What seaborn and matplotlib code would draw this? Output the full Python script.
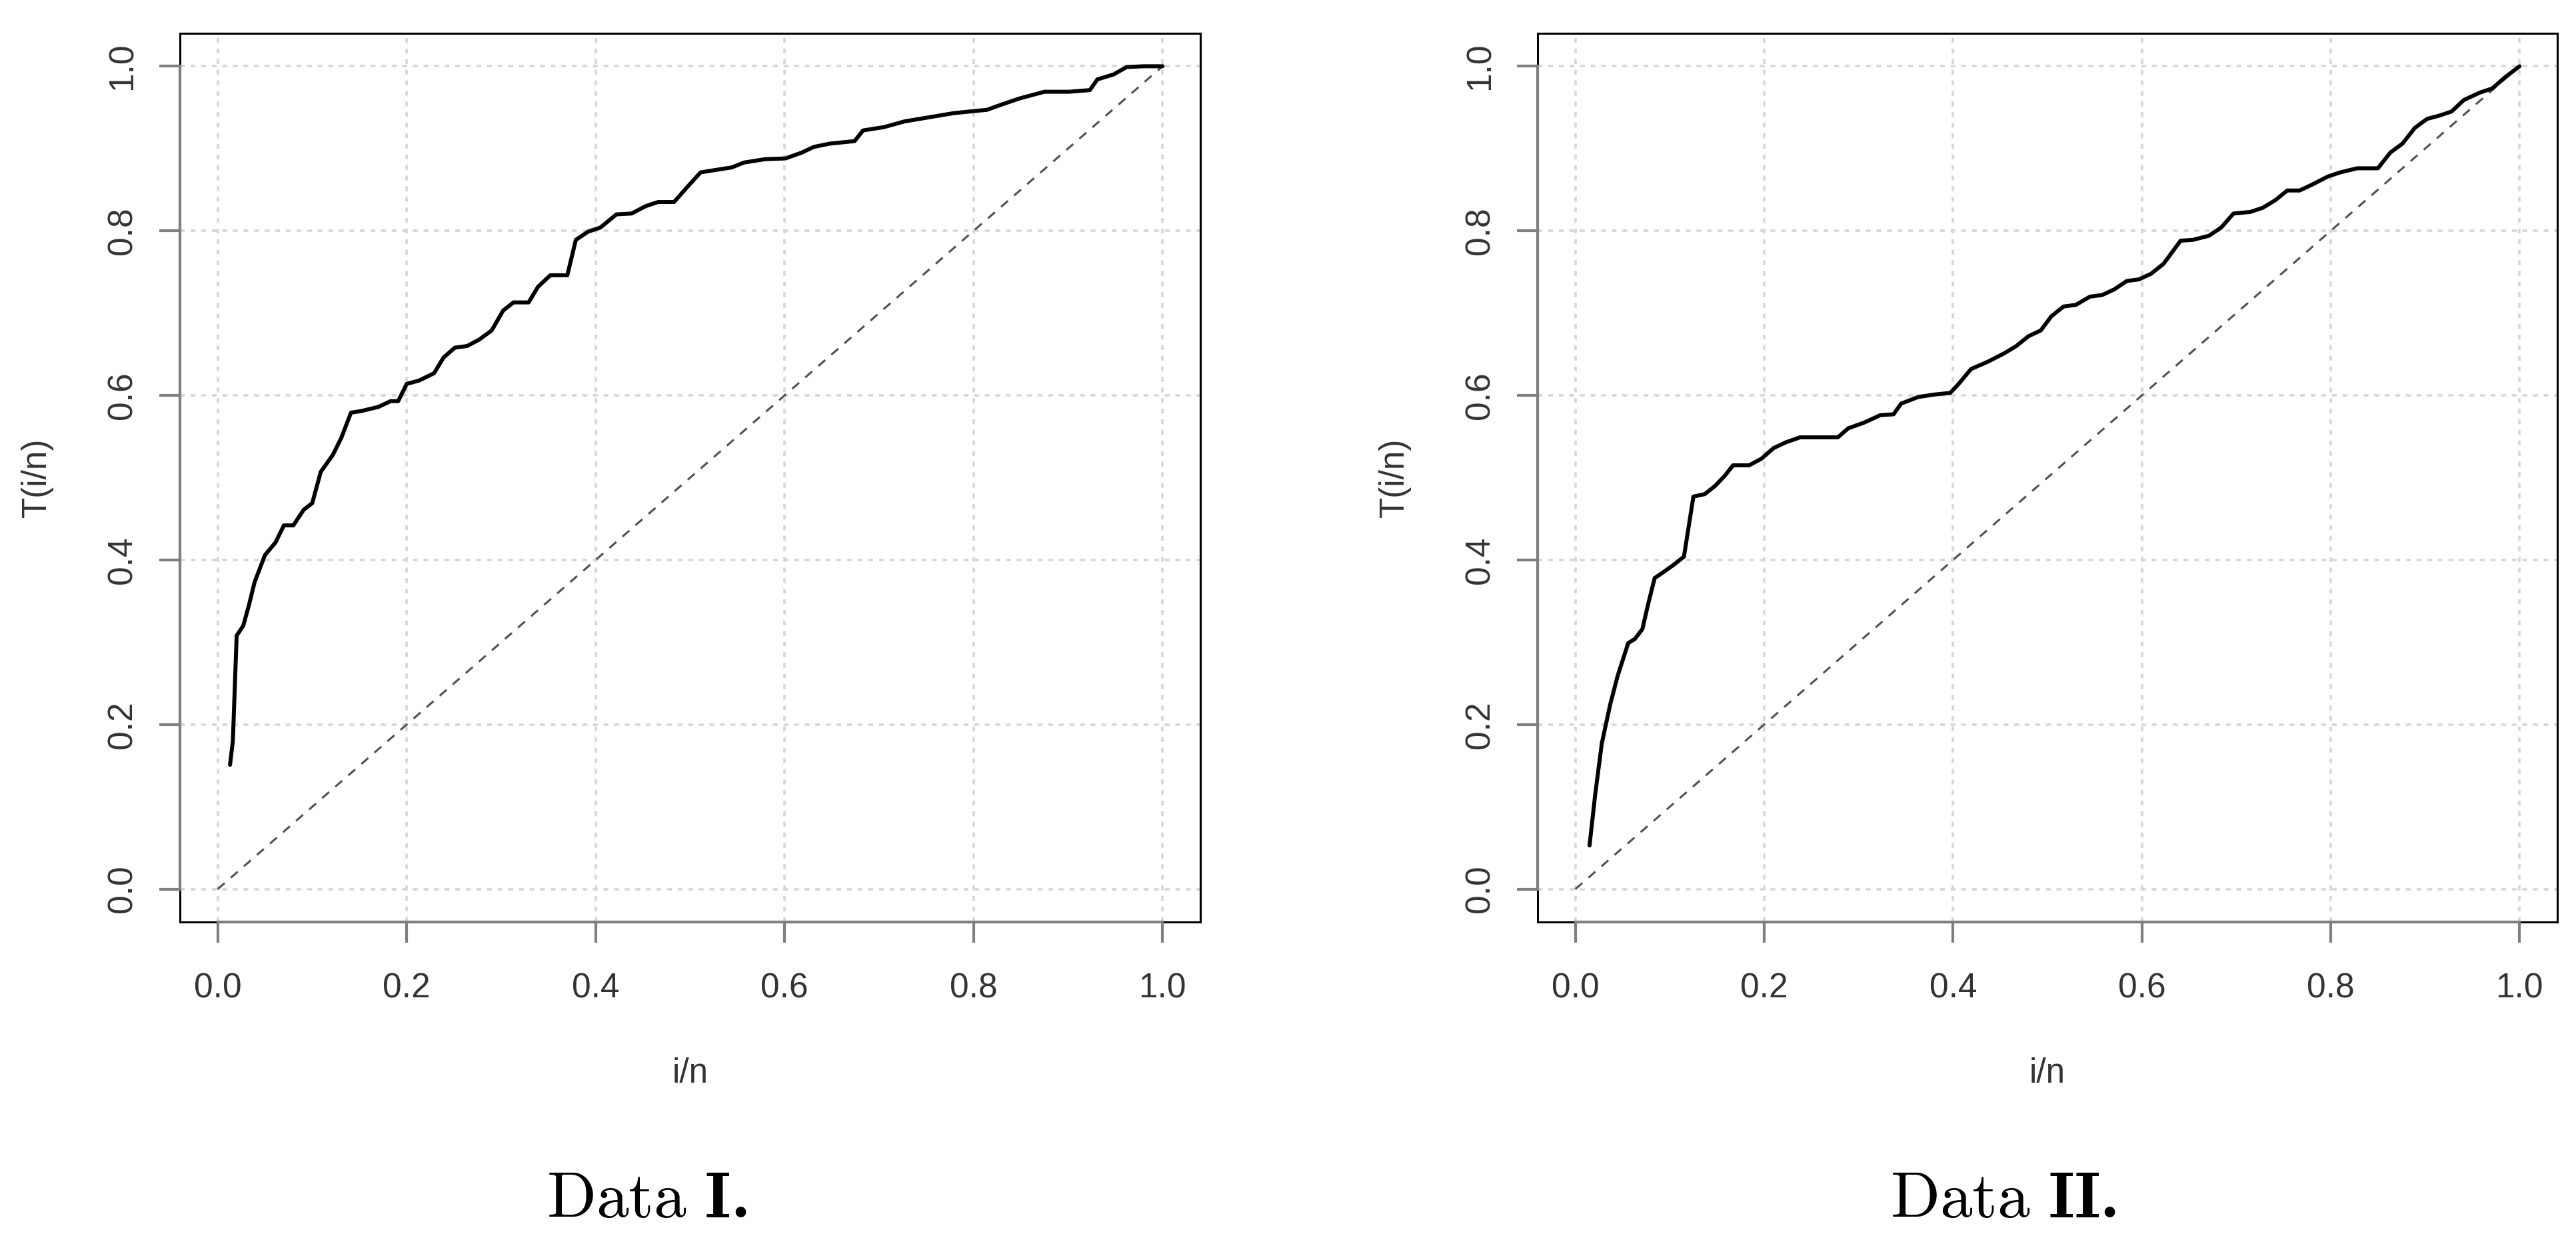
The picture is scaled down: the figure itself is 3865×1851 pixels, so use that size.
import numpy as np
import pandas as pd
import matplotlib
matplotlib.use("Agg")
import matplotlib.pyplot as plt
from matplotlib.patches import Rectangle
import seaborn as sns

# ---- Data I (scaled TTT plot) ----
d1_x = [0.013, 0.016, 0.020, 0.027, 0.033, 0.039, 0.050, 0.061, 0.070, 0.080, 0.091, 0.100,
        0.109, 0.122, 0.131, 0.141, 0.152, 0.170, 0.183, 0.191, 0.200, 0.213, 0.229, 0.239,
        0.251, 0.264, 0.277, 0.290, 0.302, 0.313, 0.329, 0.339, 0.352, 0.370, 0.379, 0.392,
        0.405, 0.422, 0.438, 0.453, 0.466, 0.483, 0.496, 0.511, 0.527, 0.544, 0.557, 0.579,
        0.601, 0.618, 0.631, 0.648, 0.674, 0.683, 0.705, 0.727, 0.753, 0.779, 0.796, 0.814,
        0.831, 0.849, 0.875, 0.901, 0.923, 0.931, 0.948, 0.962, 0.980, 1.000]
d1_y = [0.151, 0.180, 0.308, 0.320, 0.345, 0.373, 0.406, 0.421, 0.442, 0.442, 0.461, 0.469,
        0.507, 0.528, 0.549, 0.579, 0.581, 0.586, 0.593, 0.593, 0.614, 0.618, 0.627, 0.646,
        0.658, 0.660, 0.668, 0.679, 0.703, 0.713, 0.713, 0.732, 0.746, 0.746, 0.789, 0.799,
        0.804, 0.820, 0.821, 0.830, 0.835, 0.835, 0.852, 0.871, 0.874, 0.877, 0.883, 0.887,
        0.888, 0.895, 0.902, 0.906, 0.909, 0.922, 0.926, 0.933, 0.938, 0.943, 0.945, 0.947,
        0.954, 0.961, 0.969, 0.969, 0.971, 0.984, 0.990, 0.999, 1.000, 1.000]

# ---- Data II ----
d2_x = [0.015, 0.021, 0.028, 0.037, 0.045, 0.056, 0.063, 0.071, 0.077, 0.084, 0.093, 0.104,
        0.115, 0.125, 0.137, 0.148, 0.158, 0.167, 0.184, 0.197, 0.210, 0.223, 0.238, 0.258,
        0.278, 0.289, 0.306, 0.323, 0.337, 0.345, 0.363, 0.380, 0.397, 0.406, 0.419, 0.437,
        0.454, 0.467, 0.480, 0.493, 0.504, 0.517, 0.530, 0.545, 0.558, 0.571, 0.584, 0.597,
        0.610, 0.623, 0.641, 0.654, 0.671, 0.684, 0.697, 0.715, 0.728, 0.741, 0.754, 0.767,
        0.780, 0.797, 0.810, 0.828, 0.850, 0.863, 0.876, 0.889, 0.902, 0.915, 0.928, 0.941,
        0.958, 0.971, 0.984, 1.000]
d2_y = [0.053, 0.115, 0.177, 0.225, 0.260, 0.299, 0.304, 0.316, 0.346, 0.378, 0.385, 0.394,
        0.404, 0.477, 0.480, 0.490, 0.502, 0.515, 0.515, 0.523, 0.536, 0.543, 0.549, 0.549,
        0.549, 0.560, 0.567, 0.576, 0.577, 0.590, 0.598, 0.601, 0.603, 0.614, 0.632, 0.641,
        0.651, 0.660, 0.672, 0.679, 0.696, 0.708, 0.710, 0.720, 0.722, 0.729, 0.739, 0.741,
        0.748, 0.760, 0.788, 0.789, 0.794, 0.804, 0.821, 0.823, 0.828, 0.837, 0.849, 0.849,
        0.856, 0.866, 0.871, 0.876, 0.876, 0.895, 0.906, 0.925, 0.936, 0.940, 0.945, 0.959,
        0.968, 0.973, 0.986, 1.000]

# ---- reference diagonal ----
ref_x = [0.0, 1.0]
ref_y = [0.0, 1.0]

tick_vals = [0.0, 0.2, 0.4, 0.6, 0.8, 1.0]
tick_labels = ["0.0", "0.2", "0.4", "0.6", "0.8", "1.0"]
titles_main = [r"$\mathrm{Data}\ \mathbf{I}$", r"$\mathrm{Data}\ \mathbf{II}$"]
xlabel = "i/n"
ylabel = "T(i/n)"

sns.set_style("white")
plt.rcParams["font.family"] = ["Liberation Sans", "DejaVu Sans"]
plt.rcParams["mathtext.fontset"] = "cm"

W, H = 3866, 1851
fig = plt.figure(figsize=(W / 100, H / 100), dpi=100)
fig.patch.set_facecolor("white")

axes_rects = [
    [270 / W, (H - 1383) / H, 1531 / W, 1333 / H],
    [2307 / W, (H - 1383) / H, 1530 / W, 1333 / H],
]
title_x = [(972 - 14) / W, (3007 - 14) / W]
title_base = 0.0135
datasets = [(d1_x, d1_y), (d2_x, d2_y)]

text_col = "#333333"
axis_gray = "#7f7f7f"

for i, rect in enumerate(axes_rects):
    ax = fig.add_axes(rect)
    ax.set_facecolor("white")
    xs, ys = datasets[i]
    df = pd.DataFrame({"x": xs, "y": ys})
    dref = pd.DataFrame({"x": ref_x, "y": ref_y})

    # grid
    for t in tick_vals:
        ax.axvline(t, color="#d6d6d6", lw=2.6, ls=(0, (2, 2.4)), zorder=1)
        ax.axhline(t, color="#d6d6d6", lw=2.6, ls=(0, (2, 2.4)), zorder=1)

    sns.lineplot(data=dref, x="x", y="y", ax=ax, color="#505050", lw=2.2,
                 linestyle=(0, (4.5, 4.0)), estimator=None, sort=False, zorder=2)
    sns.lineplot(data=df, x="x", y="y", ax=ax, color="black", lw=4.3,
                 estimator=None, sort=False, zorder=3)

    ax.set_xlim(-0.04, 1.04)
    ax.set_ylim(-0.04, 1.04)
    ax.set_xticks(tick_vals)
    ax.set_xticklabels(tick_labels)
    ax.set_yticks(tick_vals)
    ax.set_yticklabels(tick_labels, rotation=90, va="center")
    ax.tick_params(axis="both", length=22.3, width=3, color=axis_gray,
                   labelsize=37, labelcolor=text_col, direction="out",
                   bottom=True, left=True)
    ax.tick_params(axis="x", pad=32)
    ax.tick_params(axis="y", pad=22)

    # box + R-style axis lines
    for s in ["top", "right"]:
        ax.spines[s].set_color("black")
        ax.spines[s].set_linewidth(2.2)
    for s in ["bottom", "left"]:
        ax.spines[s].set_color(axis_gray)
        ax.spines[s].set_linewidth(3)
        ax.spines[s].set_bounds(0, 1)
    ax.add_patch(Rectangle((0, 0), 1, 1, transform=ax.transAxes, fill=False,
                           edgecolor="black", lw=2.2, clip_on=False, zorder=2.4))

    ax.set_xlabel(xlabel, fontsize=37, color=text_col)
    ax.set_ylabel(ylabel, fontsize=37, color=text_col)
    ax.xaxis.set_label_coords(0.5, -0.171)
    ax.xaxis.label.set_va("center")
    ax.yaxis.set_label_coords(-0.1404, 0.5)
    ax.yaxis.label.set_va("center")

    t_main = fig.text(title_x[i], title_base, titles_main[i], ha="center",
                      va="baseline", fontsize=70, color="black")
    fig.add_artist(matplotlib.text.Annotation(
        ".", xy=(1.0, title_base), xycoords=(t_main, "figure fraction"),
        xytext=(1, 0), textcoords="offset points", ha="left", va="baseline",
        fontsize=70, family="cmb10", color="black", annotation_clip=False))

fig.savefig("out.png", dpi=100, facecolor="white")
